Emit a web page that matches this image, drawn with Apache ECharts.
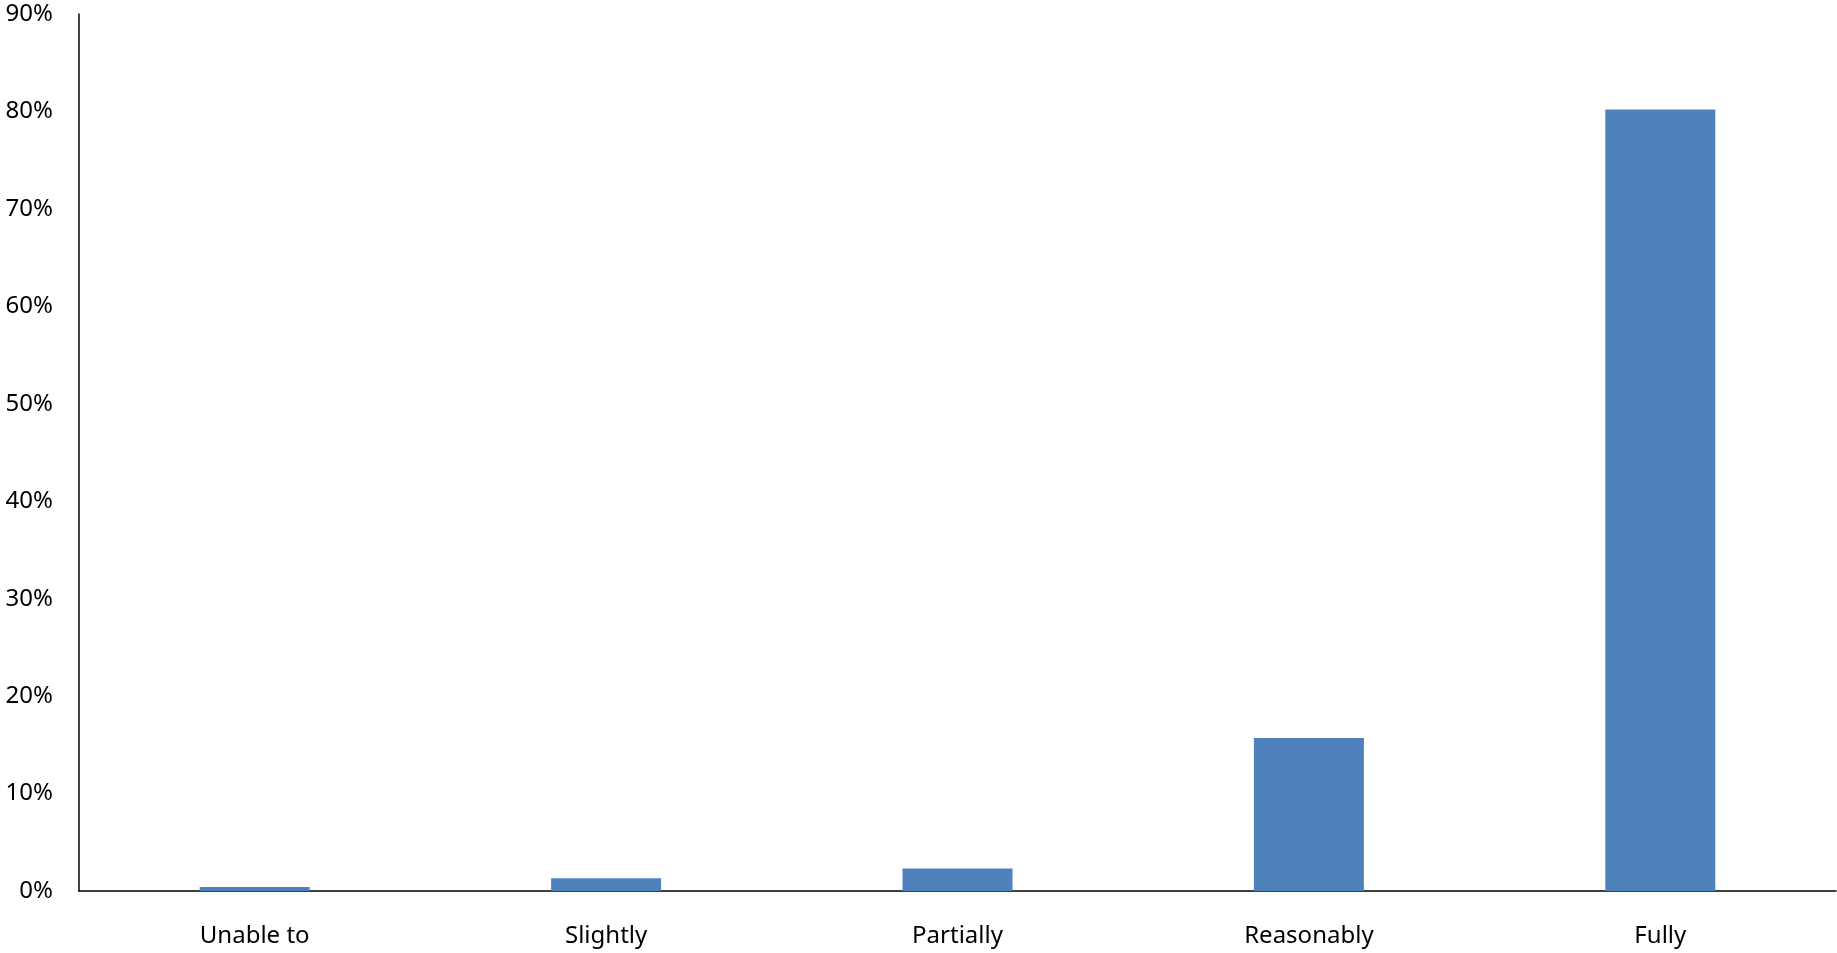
<!DOCTYPE html>
<html>
<head>
<meta charset="utf-8">
<script src="https://cdn.jsdelivr.net/npm/echarts@6/dist/echarts.min.js"></script>
<style>
html,body{margin:0;padding:0;background:#fff;}
#chart{width:1837px;height:953px;}
</style>
</head>
<body>
<div id="chart"></div>
<script>
const categories = ["Unable to", "Slightly", "Partially", "Reasonably", "Fully"];
const values = [0.4, 1.3, 2.3, 15.7, 80.2];
const yTicks = { min: 0, max: 90, interval: 10 };

const chart = echarts.init(document.getElementById('chart'));
chart.setOption({
  animation: false,
  backgroundColor: '#ffffff',
  grid: { left: 79, right: 1, top: 14, bottom: 62, containLabel: false },
  xAxis: {
    type: 'category',
    data: categories,
    axisLine: { show: true, lineStyle: { color: '#000', width: 1.5 } },
    axisTick: { show: false },
    axisLabel: { color: '#000', fontSize: 24, fontFamily: 'Noto Sans', margin: 33 },
    splitLine: { show: false }
  },
  yAxis: {
    type: 'value',
    min: yTicks.min, max: yTicks.max, interval: yTicks.interval,
    axisLine: { show: true, lineStyle: { color: '#000', width: 1.5 } },
    axisTick: { show: false },
    axisLabel: { color: '#000', fontSize: 24, fontFamily: 'Noto Sans', margin: 26, formatter: '{value}%' },
    splitLine: { show: false }
  },
  series: [{
    type: 'bar',
    data: values,
    barWidth: 110,
    itemStyle: { color: '#4F81BD' }
  }]
});
</script>
</body>
</html>
